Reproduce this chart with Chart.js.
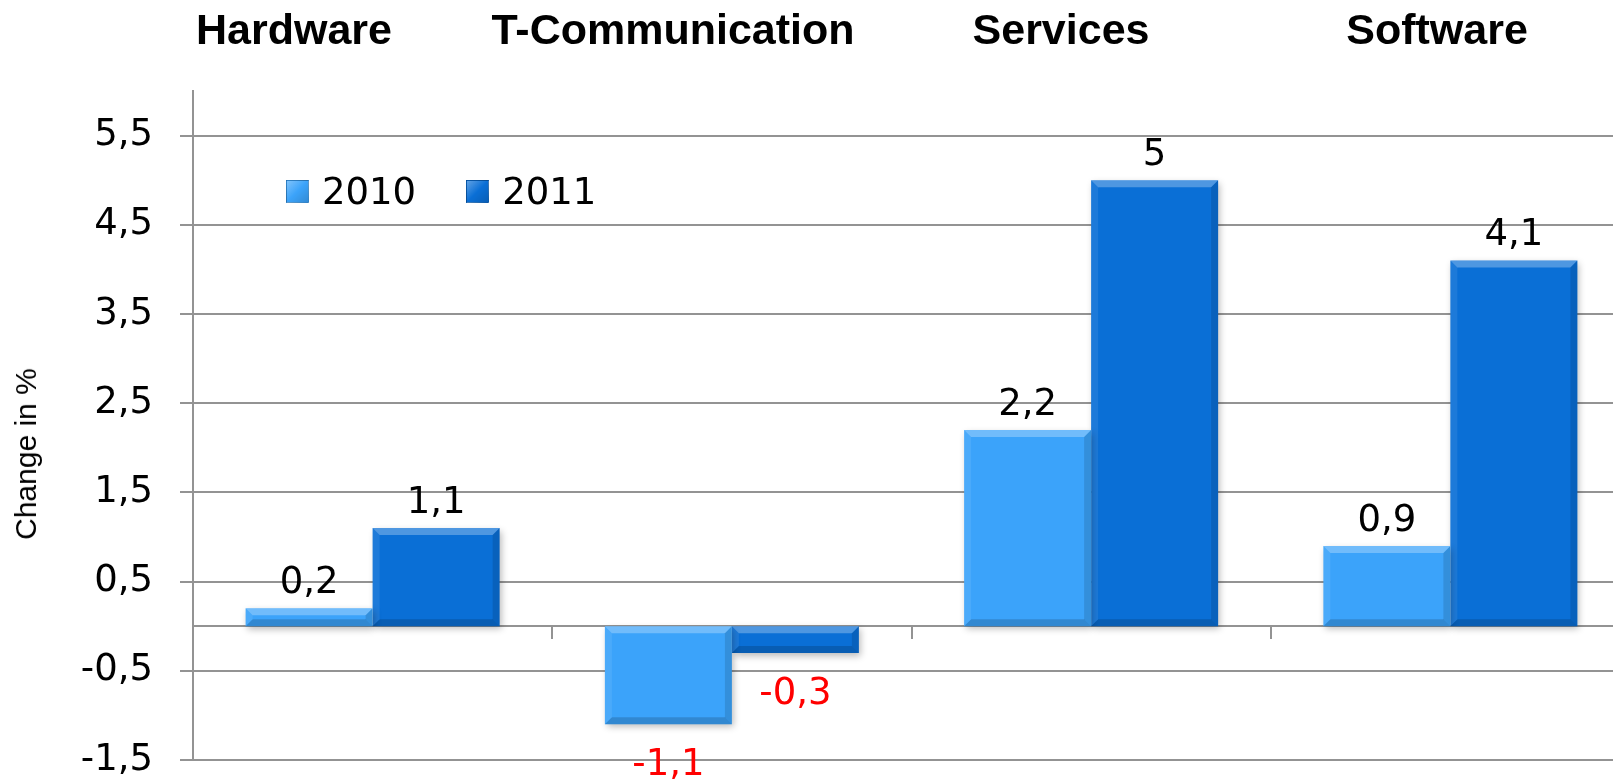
<!DOCTYPE html>
<html lang="en">
  <head>
    <meta charset="UTF-8" />
    <title>Change in % by segment</title>
    <script src="https://cdn.jsdelivr.net/npm/chart.js"></script>
    <style>
      html,
      body {
        margin: 0;
        padding: 0;
        overflow: hidden;
        background: #fff;
      }
      #wrap {
        position: relative;
        width: 1630px;
        height: 781px;
      }
      .header {
        position: absolute;
        top: 8px;
        transform: translateX(-50%);
        font: bold 43px "Liberation Sans", Arial, sans-serif;
        line-height: 1;
        white-space: nowrap;
        color: #000;
      }
      #ytitle {
        position: absolute;
        left: 26px;
        top: 454px;
        transform: translate(-50%, -50%) rotate(-90deg);
        font: 30px "Liberation Sans", Arial, sans-serif;
        white-space: nowrap;
        color: #000;
      }
      #legend {
        position: absolute;
        left: 286px;
        top: 173px;
        display: flex;
        align-items: center;
        font: 37px "DejaVu Sans", Verdana, sans-serif;
        line-height: 37px;
        color: #000;
      }
      .item {
        display: flex;
        align-items: center;
        margin-right: 50px;
      }
      .box {
        width: 23px;
        height: 23px;
        margin-right: 13px;
        box-sizing: border-box;
      }
    </style>
  </head>
  <body>
    <div id="wrap">
      <canvas id="chart"></canvas>
      <div class="header" style="left: 294px">Hardware</div>
      <div class="header" style="left: 673px">T-Communication</div>
      <div class="header" style="left: 1061px">Services</div>
      <div class="header" style="left: 1437px">Software</div>
      <div id="ytitle">Change in %</div>
      <div id="legend"></div>
    </div>

    <script>
      const categories = ["Hardware", "T-Communication", "Services", "Software"];
      const seriesNames = ["2010", "2011"];
      const values2010 = [0.2, -1.1, 2.2, 0.9];
      const values2011 = [1.1, -0.3, 5, 4.1];
      const tickValues = [-1.5, -0.5, 0.5, 1.5, 2.5, 3.5, 4.5, 5.5];
      const tickLabels = ["-1,5", "-0,5", "0,5", "1,5", "2,5", "3,5", "4,5", "5,5"];

      const colors = ["#3ba3fa", "#0a6fd6"];
      const gridColor = "#939393";
      const numberFont = '"DejaVu Sans", Verdana, sans-serif';

      // legend built from the dataset names and colours
      const legendEl = document.getElementById("legend");
      seriesNames.forEach((name, i) => {
        const item = document.createElement("div");
        item.className = "item";
        const box = document.createElement("span");
        box.className = "box";
        box.style.background =
          "linear-gradient(135deg, rgba(255,255,255,0.35), rgba(255,255,255,0) 50%, rgba(0,0,0,0.15))," +
          colors[i];
        box.style.border = "1px solid rgba(0,0,0,0.2)";
        item.appendChild(box);
        item.appendChild(document.createTextNode(name));
        legendEl.appendChild(item);
      });

      const formatValue = (v) => String(v).replace(".", ",");

      // soft shadow + bevelled edges on bars, then the value labels
      const barLook = {
        id: "barLook",
        beforeDatasetsDraw(chart) {
          const ctx = chart.ctx;
          ctx.save();
          ctx.shadowColor = "rgba(0,0,0,0.28)";
          ctx.shadowBlur = 7;
          ctx.shadowOffsetX = 2;
          ctx.shadowOffsetY = 3;
        },
        afterDatasetsDraw(chart) {
          const ctx = chart.ctx;
          ctx.restore();

          const poly = (pts, fill) => {
            ctx.beginPath();
            ctx.moveTo(pts[0], pts[1]);
            for (let k = 2; k < pts.length; k += 2) ctx.lineTo(pts[k], pts[k + 1]);
            ctx.closePath();
            ctx.fillStyle = fill;
            ctx.fill();
          };

          chart.data.datasets.forEach((ds, i) => {
            chart.getDatasetMeta(i).data.forEach((el, j) => {
              const { x, y, base, width } = el.getProps(["x", "y", "base", "width"], true);
              const L = x - width / 2;
              const R = x + width / 2;
              const T = Math.min(y, base);
              const B = Math.max(y, base);
              const b = Math.min(7, (B - T) / 2);
              ctx.save();
              poly([L, T, R, T, R - b, T + b, L + b, T + b], "rgba(255,255,255,0.28)");
              poly([L, B, R, B, R - b, B - b, L + b, B - b], "rgba(0,0,0,0.16)");
              poly([L, T, L + b, T + b, L + b, B - b, L, B], "rgba(255,255,255,0.08)");
              poly([R, T, R - b, T + b, R - b, B - b, R, B], "rgba(0,0,0,0.12)");
              ctx.restore();

              const v = ds.data[j];
              ctx.save();
              ctx.font = "37px " + numberFont;
              ctx.textAlign = "center";
              ctx.textBaseline = "alphabetic";
              if (v >= 0) {
                ctx.fillStyle = "#000";
                ctx.fillText(formatValue(v), x, T - 15);
              } else {
                ctx.fillStyle = "#ff0000";
                ctx.fillText(formatValue(v), x, B + 51);
              }
              ctx.restore();
            });
          });
        },
      };

      new Chart(document.getElementById("chart"), {
        type: "bar",
        data: {
          labels: categories,
          datasets: [
            {
              label: seriesNames[0],
              data: values2010,
              backgroundColor: colors[0],
              borderWidth: 0,
            },
            {
              label: seriesNames[1],
              data: values2011,
              backgroundColor: colors[1],
              borderWidth: 0,
            },
          ],
        },
        options: {
          responsive: true,
          maintainAspectRatio: false,
          animation: false,
          datasets: {
            bar: { barPercentage: 1, categoryPercentage: 0.707 },
          },
          layout: { padding: { top: 91, bottom: 21, left: 0, right: 0 } },
          plugins: {
            legend: { display: false },
            tooltip: { enabled: false },
          },
          scales: {
            x: {
              position: { y: 0 },
              offset: true,
              afterFit: (axis) => {
                axis.height = 0;
              },
              grid: {
                offset: true,
                drawOnChartArea: false,
                drawTicks: true,
                tickLength: 12,
                color: gridColor,
                lineWidth: 2,
              },
              border: { display: true, color: gridColor, width: 2 },
              ticks: { display: false },
            },
            y: {
              min: -1.5,
              max: 6,
              afterBuildTicks: (axis) => {
                axis.ticks = tickValues.map((v) => ({ value: v }));
              },
              afterFit: (axis) => {
                axis.width = 193;
                // tick padding is horizontal here, keep it out of the vertical room
                axis.paddingTop = 18;
                axis.paddingBottom = 18;
              },
              grid: {
                color: gridColor,
                lineWidth: 2,
                tickLength: 13,
              },
              border: { display: true, color: gridColor, width: 2 },
              ticks: {
                padding: 27,
                color: "#000",
                font: { family: numberFont, size: 37, lineHeight: 1 },
                callback: (v, i) => tickLabels[i],
              },
            },
          },
        },
        plugins: [barLook],
      });
    </script>
  </body>
</html>
